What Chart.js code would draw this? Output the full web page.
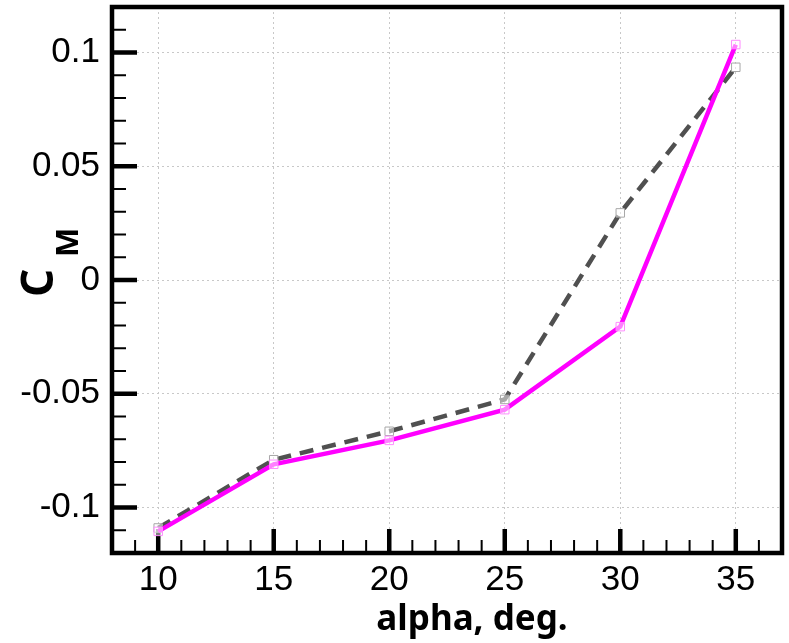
<!DOCTYPE html>
<html>
<head>
<meta charset="utf-8">
<script src="https://cdn.jsdelivr.net/npm/chart.js@4"></script>
<style>
  html, body { margin: 0; padding: 0; background: #fff; }
  canvas { display: block; }
</style>
</head>
<body>
<canvas id="cmChart" width="789" height="643"></canvas>
<script>
// ========== Data ==========

const alpha = [10, 15, 20, 25, 30, 35];
const cmSolid = [-0.1105, -0.081, -0.0705, -0.057, -0.0205, 0.1035];
const cmDashed = [-0.109, -0.079, -0.0665, -0.0525, 0.0295, 0.0935];
const xMajorTicks = [10, 15, 20, 25, 30, 35];
const yMajorTicks = [-0.1, -0.05, 0, 0.05, 0.1];
const xTitle = 'alpha, deg.';
const yTitleMain = 'C';
const yTitleSub = 'M';

const toPoints = (ys) => alpha.map((x, i) => ({ x, y: ys[i] }));

// ========== Frame, inward ticks, titles ==========

const frameAndTicks = {
    id: 'frameAndTicks',
    beforeDatasetsDraw(chart) {
        const { ctx, chartArea: a, scales: { x, y } } = chart;
        ctx.save();
        ctx.strokeStyle = '#000';
        ctx.lineCap = 'butt';

        // minor ticks
        ctx.lineWidth = 2;
        ctx.beginPath();
        for (let v = 9; v <= 36; v++) {
            if (v % 5 === 0) continue;
            const px = x.getPixelForValue(v);
            ctx.moveTo(px, a.bottom);
            ctx.lineTo(px, a.bottom - 13);
        }
        for (let k = -11; k <= 11; k++) {
            if (k % 5 === 0) continue;
            const py = y.getPixelForValue(k / 100);
            ctx.moveTo(a.left, py);
            ctx.lineTo(a.left + 14, py);
        }
        ctx.stroke();

        // major ticks
        ctx.lineWidth = 4.5;
        ctx.beginPath();
        xMajorTicks.forEach(v => {
            const px = x.getPixelForValue(v);
            ctx.moveTo(px, a.bottom);
            ctx.lineTo(px, a.bottom - 24);
        });
        yMajorTicks.forEach(v => {
            const py = y.getPixelForValue(v);
            ctx.moveTo(a.left, py);
            ctx.lineTo(a.left + 25, py);
        });
        ctx.stroke();
        ctx.restore();
    },
    afterDatasetsDraw(chart) {
        const { ctx, chartArea: a } = chart;
        ctx.save();
        ctx.strokeStyle = '#000';
        ctx.lineWidth = 4.5;
        ctx.lineJoin = 'miter';
        ctx.strokeRect(a.left, a.top, a.right - a.left, a.bottom - a.top);

        // x title
        ctx.fillStyle = '#000';
        ctx.textAlign = 'center';
        ctx.textBaseline = 'alphabetic';
        ctx.font = 'bold 35px "Noto Sans"';
        ctx.fillText(xTitle, 472, 630);

        // y title, rotated, with subscript
        ctx.translate(53, 297);
        ctx.rotate(-Math.PI / 2);
        ctx.textAlign = 'left';
        ctx.font = 'bold 44px "Noto Sans"';
        ctx.fillText(yTitleMain, 0, 0);
        ctx.font = 'bold 31px "Noto Sans"';
        ctx.fillText(yTitleSub, 40, 25);
        ctx.restore();
    }
};

// ========== Chart ==========

const tickFont = { family: '"Liberation Sans", Arial, sans-serif', size: 35 };
const noPad = (s) => { s.paddingTop = 0; s.paddingBottom = 0; s.paddingLeft = 0; s.paddingRight = 0; };

new Chart(document.getElementById('cmChart').getContext('2d'), {
    type: 'scatter',
    data: {
        datasets: [
            {
                data: toPoints(cmSolid),
                showLine: true,
                borderColor: '#ff00ff',
                borderWidth: 4.5,
                pointStyle: 'rect',
                pointRadius: 6,
                pointBorderWidth: 1,
                pointBorderColor: '#ff8cff',
                pointBackgroundColor: 'rgba(255,255,255,0.5)'
            },
            {
                data: toPoints(cmDashed),
                showLine: true,
                borderColor: '#505050',
                borderWidth: 4.5,
                borderDash: [14, 9],
                pointStyle: 'rect',
                pointRadius: 6,
                pointBorderWidth: 1,
                pointBorderColor: '#a8a8a8',
                pointBackgroundColor: 'rgba(255,255,255,0.5)'
            }
        ]
    },
    options: {
        responsive: false,
        animation: false,
        layout: { padding: { left: 0, right: 7, top: 6, bottom: 0 } },
        plugins: { legend: { display: false }, tooltip: { enabled: false } },
        scales: {
            x: {
                type: 'linear',
                min: 8,
                max: 37,
                afterBuildTicks: (s) => { s.ticks = xMajorTicks.map(v => ({ value: v })); },
                afterFit: (s) => { s.height = 90; noPad(s); },
                border: { display: false, dash: [2, 3] },
                grid: { color: '#c8c8c8', lineWidth: 1, borderDash: [2, 3], drawTicks: false },
                ticks: { color: '#000', font: tickFont, padding: 6, maxRotation: 0, callback: v => String(v) }
            },
            y: {
                type: 'linear',
                min: -0.12,
                max: 0.12,
                afterBuildTicks: (s) => { s.ticks = yMajorTicks.map(v => ({ value: v })); },
                afterFit: (s) => { s.width = 112; noPad(s); },
                border: { display: false, dash: [2, 3] },
                grid: { color: '#c8c8c8', lineWidth: 1, borderDash: [2, 3], drawTicks: false },
                ticks: { color: '#000', font: tickFont, padding: 12, callback: v => String(v) }
            }
        }
    },
    plugins: [frameAndTicks]
});
</script>
</body>
</html>
